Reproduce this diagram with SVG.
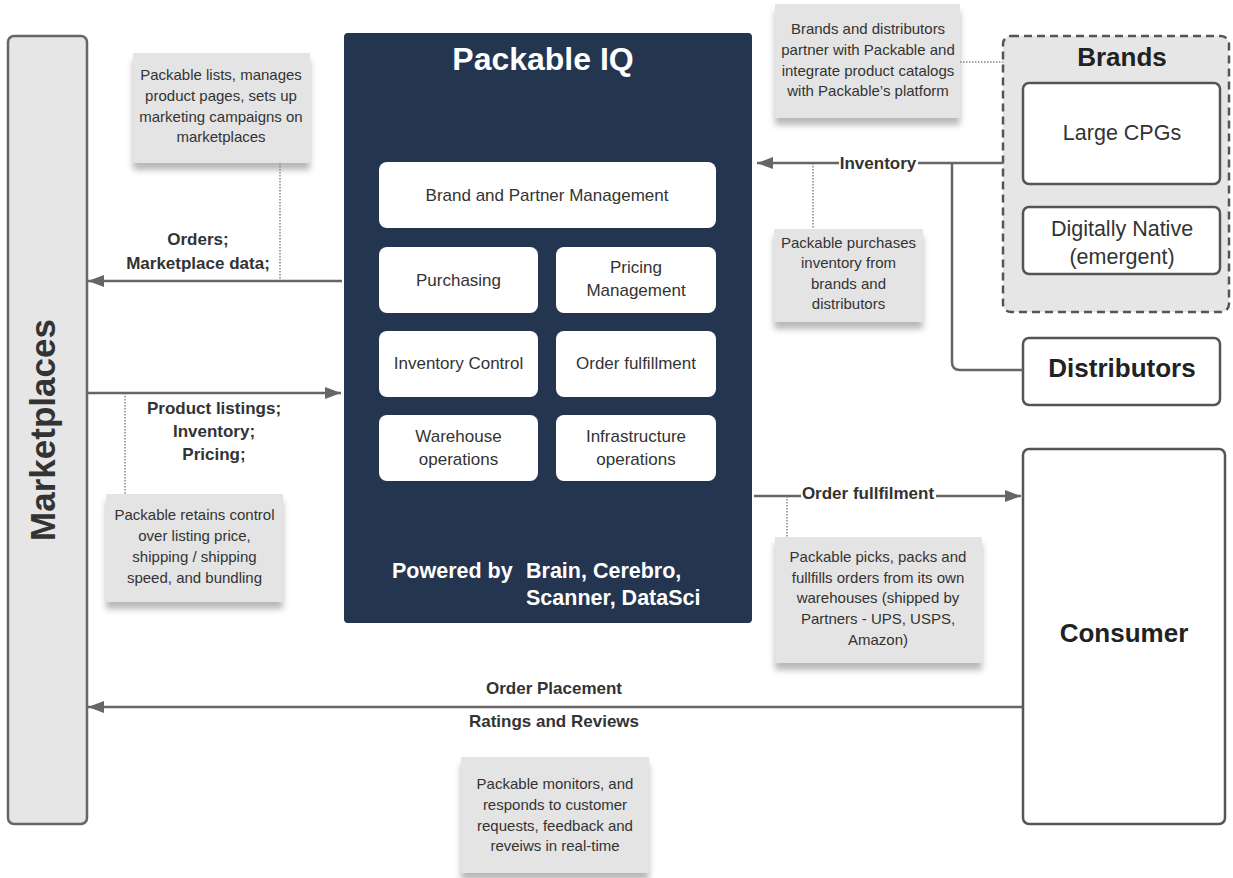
<svg xmlns="http://www.w3.org/2000/svg" width="1233" height="878" viewBox="0 0 1233 878">
<defs>
  <marker id="arrow" viewBox="0 0 16 12" refX="16" refY="6" markerWidth="16" markerHeight="12" markerUnits="userSpaceOnUse" orient="auto">
    <path d="M0,0 L16,6 L0,12 Z" fill="#666"/>
  </marker>
  <filter id="shadow" x="-10%" y="-10%" width="120%" height="130%">
    <feDropShadow dx="0" dy="7" stdDeviation="3" flood-color="#000" flood-opacity="0.28"/>
  </filter>
</defs>
<style>
  text { font-family: "Liberation Sans", Arial, sans-serif; }
  .note rect { fill: #e4e4e4; filter: url(#shadow); }
  .note text { font-size: 15px; fill: #333; text-anchor: middle; }
  .conn { stroke: #666; stroke-width: 2.5; fill: none; }
  .dot { stroke: #888; stroke-width: 1.5; stroke-dasharray: 1.5 1.5; fill: none; }
  .lbl { font-size: 17px; font-weight: bold; fill: #333; text-anchor: middle; }
  .box { fill: #fff; stroke: #555; stroke-width: 2.5; }
  .inner rect { fill: #fff; }
  .inner text { font-size: 17px; fill: #333; text-anchor: middle; }
  .big { font-size: 26px; font-weight: bold; fill: #222; text-anchor: middle; }
  .mid { font-size: 21.5px; fill: #333; text-anchor: middle; }
</style>
<rect width="1233" height="878" fill="#fff"/>

<!-- Marketplaces -->
<g id="marketplaces">
  <rect x="8" y="36" width="79" height="788" rx="6" fill="#e6e6e6" stroke="#666" stroke-width="2.5"/>
  <text transform="translate(55,430) rotate(-90)" font-size="35" font-weight="bold" fill="#333" text-anchor="middle">Marketplaces</text>
</g>

<!-- Packable IQ -->
<g id="packable-iq">
  <rect x="344" y="33" width="408" height="590" rx="4" fill="#243550"/>
  <text x="543" y="70" font-size="32" font-weight="bold" fill="#fff" text-anchor="middle">Packable IQ</text>
  <g class="inner" id="brand-partner">
    <rect x="379" y="162" width="337" height="66" rx="8"/>
    <text x="547" y="201">Brand and Partner Management</text>
  </g>
  <g class="inner" id="purchasing">
    <rect x="379" y="247" width="159" height="66" rx="8"/>
    <text x="458.5" y="286">Purchasing</text>
  </g>
  <g class="inner" id="pricing">
    <rect x="556" y="247" width="160" height="66" rx="8"/>
    <text x="636" y="273">Pricing</text>
    <text x="636" y="296">Management</text>
  </g>
  <g class="inner" id="inventory-control">
    <rect x="379" y="331" width="159" height="66" rx="8"/>
    <text x="458.5" y="369">Inventory Control</text>
  </g>
  <g class="inner" id="order-fulfillment">
    <rect x="556" y="331" width="160" height="66" rx="8"/>
    <text x="636" y="369">Order fulfillment</text>
  </g>
  <g class="inner" id="warehouse">
    <rect x="379" y="415" width="159" height="66" rx="8"/>
    <text x="458.5" y="442">Warehouse</text>
    <text x="458.5" y="465">operations</text>
  </g>
  <g class="inner" id="infrastructure">
    <rect x="556" y="415" width="160" height="66" rx="8"/>
    <text x="636" y="442">Infrastructure</text>
    <text x="636" y="465">operations</text>
  </g>
  <text x="392" y="578" font-size="21.5" font-weight="bold" fill="#fff">Powered by</text>
  <text x="526" y="578" font-size="21.5" font-weight="bold" fill="#fff">Brain, Cerebro,</text>
  <text x="526" y="605" font-size="21.5" font-weight="bold" fill="#fff">Scanner, DataSci</text>
</g>

<!-- Brands -->
<g id="brands">
  <rect x="1003" y="36" width="226" height="276" rx="8" fill="#e6e6e6" stroke="#555" stroke-width="2.5" stroke-dasharray="8 5"/>
  <text x="1122" y="66" class="big">Brands</text>
</g>
<g id="large-cpgs">
  <rect x="1023" y="83" width="197" height="101" rx="6" class="box"/>
  <text x="1122" y="140" class="mid">Large CPGs</text>
</g>
<g id="digitally-native">
  <rect x="1023" y="207" width="197" height="67" rx="6" class="box"/>
  <text x="1122" y="236" class="mid">Digitally Native</text>
  <text x="1122" y="264" class="mid">(emergent)</text>
</g>
<g id="distributors">
  <rect x="1023" y="338" width="197" height="67" rx="6" class="box"/>
  <text x="1122" y="377" class="big">Distributors</text>
</g>
<g id="consumer">
  <rect x="1023" y="449" width="202" height="375" rx="6" class="box"/>
  <text x="1124" y="642" class="big">Consumer</text>
</g>

<!-- Notes -->
<g class="note" id="note-listing">
  <rect x="133" y="53" width="177" height="110"/>
  <text x="221" y="80">Packable lists, manages</text>
  <text x="221" y="101">product pages, sets up</text>
  <text x="221" y="122">marketing campaigns on</text>
  <text x="221" y="142">marketplaces</text>
</g>
<g class="note" id="note-control">
  <rect x="106" y="494" width="177" height="108"/>
  <text x="194.5" y="520">Packable retains control</text>
  <text x="194.5" y="541">over listing price,</text>
  <text x="194.5" y="562">shipping / shipping</text>
  <text x="194.5" y="583">speed, and bundling</text>
</g>
<g class="note" id="note-partner">
  <rect x="775" y="4" width="185" height="114"/>
  <text x="868" y="34">Brands and distributors</text>
  <text x="868" y="55">partner with Packable and</text>
  <text x="868" y="76">integrate product catalogs</text>
  <text x="868" y="96">with Packable’s platform</text>
</g>
<g class="note" id="note-purchase">
  <rect x="774" y="229" width="149" height="93"/>
  <text x="848.5" y="248">Packable purchases</text>
  <text x="848.5" y="268">inventory from</text>
  <text x="848.5" y="289">brands and</text>
  <text x="848.5" y="309">distributors</text>
</g>
<g class="note" id="note-fulfil">
  <rect x="775" y="537" width="207" height="126"/>
  <text x="878" y="562">Packable picks, packs and</text>
  <text x="878" y="583">fullfills orders from its own</text>
  <text x="878" y="603">warehouses (shipped by</text>
  <text x="878" y="624">Partners - UPS, USPS,</text>
  <text x="878" y="645">Amazon)</text>
</g>
<g class="note" id="note-monitor">
  <rect x="461" y="757" width="188" height="116"/>
  <text x="555" y="789">Packable monitors, and</text>
  <text x="555" y="810">responds to customer</text>
  <text x="555" y="831">requests, feedback and</text>
  <text x="555" y="851">reveiws in real-time</text>
</g>

<!-- Connectors -->
<g id="connectors">
  <line class="dot" x1="280" y1="163" x2="280" y2="281"/>
  <line class="dot" x1="125" y1="393" x2="125" y2="494"/>
  <line class="dot" x1="813" y1="163" x2="813" y2="229"/>
  <line class="dot" x1="787" y1="496" x2="787" y2="537"/>
  <line class="dot" x1="960" y1="62" x2="1003" y2="62"/>

  <line class="conn" x1="342" y1="281" x2="88" y2="281" marker-end="url(#arrow)"/>
  <line class="conn" x1="87" y1="393" x2="341" y2="393" marker-end="url(#arrow)"/>
  <line class="conn" x1="1003" y1="163" x2="757" y2="163" marker-end="url(#arrow)"/>
  <path class="conn" d="M952,163 V362 Q952,370 960,370 H1023"/>
  <line class="conn" x1="754" y1="496" x2="1021" y2="496" marker-end="url(#arrow)"/>
  <line class="conn" x1="1023" y1="707" x2="88" y2="707" marker-end="url(#arrow)"/>

  <rect x="839" y="152" width="79" height="22" fill="#fff"/>
  <rect x="801" y="484" width="135" height="22" fill="#fff"/>

  <text class="lbl" x="198" y="245">Orders;</text>
  <text class="lbl" x="198" y="269">Marketplace data;</text>
  <text class="lbl" x="214" y="414">Product listings;</text>
  <text class="lbl" x="214" y="437">Inventory;</text>
  <text class="lbl" x="214" y="460">Pricing;</text>
  <text class="lbl" x="878" y="169">Inventory</text>
  <text class="lbl" x="868" y="499">Order fullfilment</text>
  <text class="lbl" x="554" y="694">Order Placement</text>
  <text class="lbl" x="554" y="727">Ratings and Reviews</text>
</g>
</svg>
